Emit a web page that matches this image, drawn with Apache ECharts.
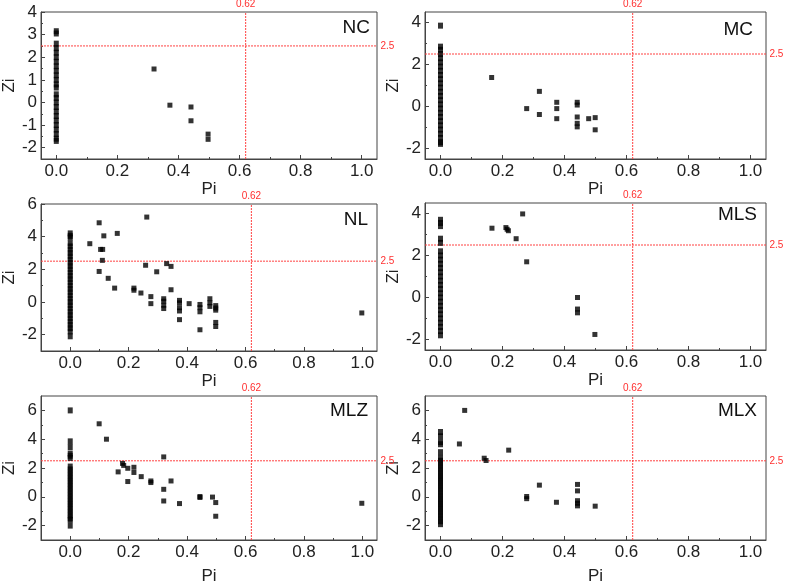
<!DOCTYPE html>
<html>
<head>
<meta charset="utf-8">
<script src="https://cdn.jsdelivr.net/npm/echarts@6/dist/echarts.min.js"></script>
<style>
  html, body { margin: 0; padding: 0; background: #fff; }
  #chart { width: 788px; height: 586px; }
</style>
</head>
<body>
<div id="chart"></div>
<script>
// panel names
var panelNames = ['NC', 'MC', 'NL', 'MLS', 'MLZ', 'MLX'];

// Zi values of the points stacked at Pi = 0
var ncCol = [3.15, 3.05, 2.6, 2.4, 2.2, 2.0, 1.8, 1.6, 1.4, 1.2, 1.0, 0.8, 0.66, 0.36, 0.2, 0, -0.2, -0.4, -0.6, -0.8, -1.0, -1.2, -1.4, -1.6, -1.7];
var mcCol = [3.85, 2.85, 2.7, 2.5, 2.3, 2.1, 1.9, 1.7, 1.5, 1.3, 1.1, 0.9, 0.7, 0.5, 0.3, 0.1, -0.1, -0.3, -0.5, -0.7, -0.9, -1.1, -1.3, -1.5, -1.7, -1.78];
var nlCol = [4.2, 4.05, 3.95, 3.6, 3.4, 3.2, 3.0, 2.8, 2.6, 2.4, 2.2, 2.0, 1.8, 1.6, 1.4, 1.2, 1.0, 0.8, 0.6, 0.4, 0.2, 0, -0.2, -0.4, -0.6, -0.8, -1.0, -1.2, -1.4, -1.6, -1.8, -2.1];
var mlsCol = [3.7, 3.55, 3.4, 2.8, 2.6, 2.2, 2.0, 1.8, 1.6, 1.4, 1.2, 1.0, 0.8, 0.6, 0.4, 0.2, 0, -0.2, -0.4, -0.6, -0.8, -1.0, -1.2, -1.4, -1.6, -1.8];
var mlzCol = [6.0, 3.85, 3.45, 3.0, 2.85, 2.7, 2.1, 1.9, 1.7, 1.5, 1.3, 1.1, 0.9, 0.7, 0.5, 0.3, 0.1, -0.1, -0.3, -0.5, -0.7, -0.9, -1.1, -1.3, -1.5, -1.6, -2.0];
var mlxCol = [4.5, 4.2, 3.8, 3.65, 3.1, 2.7, 2.5, 2.3, 2.1, 1.9, 1.7, 1.5, 1.3, 1.1, 0.9, 0.7, 0.5, 0.3, 0.1, -0.1, -0.3, -0.5, -0.7, -0.9, -1.1, -1.3, -1.5, -1.7, -1.9];

// other points [Pi, Zi]
var ncPts = [[0.32, 1.48], [0.372, -0.12], [0.441, -0.2], [0.441, -0.81], [0.497, -1.4], [0.497, -1.63]];
var mcPts = [[0.165, 1.38], [0.278, -0.1], [0.319, 0.72], [0.319, -0.38], [0.375, 0.2], [0.375, -0.1], [0.375, -0.58],
  [0.441, 0.2], [0.441, 0.07], [0.441, -0.5], [0.441, -0.8], [0.441, -0.97], [0.478, -0.58], [0.499, -0.53], [0.499, -1.11]];
var nlPts = [[0.067, 3.57], [0.099, 4.85], [0.099, 1.87], [0.104, 3.22], [0.111, 3.22], [0.11, 2.55], [0.115, 4.05],
  [0.13, 1.45], [0.152, 0.85], [0.161, 4.2], [0.218, 0.85], [0.218, 0.72], [0.242, 0.55], [0.262, 5.2], [0.258, 2.25],
  [0.276, 0.33], [0.276, -0.1], [0.296, 1.85], [0.32, 0.2], [0.32, 0.05], [0.32, -0.2], [0.32, -0.4], [0.33, 2.35],
  [0.345, 2.18], [0.345, 0.75], [0.374, 0.1], [0.374, -0.05], [0.374, -0.35], [0.374, -0.55], [0.374, -1.08],
  [0.407, -0.1], [0.444, -0.15], [0.444, -0.35], [0.444, -0.6], [0.444, -1.7], [0.478, 0.2], [0.478, -0.05],
  [0.478, -0.27], [0.498, -0.22], [0.498, -0.37], [0.498, -0.5], [0.498, -1.25], [0.498, -1.5], [0.998, -0.67]];
var mlsPts = [[0.166, 3.3], [0.211, 3.33], [0.215, 3.25], [0.219, 3.18], [0.244, 2.8], [0.265, 3.98], [0.278, 1.7],
  [0.442, 0.0], [0.442, -0.55], [0.442, -0.73], [0.498, -1.76]];
var mlzPts = [[0.099, 5.07], [0.124, 4.0], [0.164, 1.73], [0.179, 2.32], [0.183, 2.18], [0.197, 1.98], [0.197, 1.06],
  [0.218, 2.05], [0.218, 1.69], [0.243, 1.4], [0.276, 1.1], [0.276, 0.99], [0.32, 2.77], [0.32, 0.52], [0.32, -0.29],
  [0.345, 1.1], [0.374, -0.47], [0.444, 0.02], [0.444, -0.05], [0.487, -0.02], [0.498, -0.4], [0.498, -1.35], [0.998, -0.45]];
var mlxPts = [[0.061, 3.67], [0.078, 6.0], [0.141, 2.68], [0.147, 2.52], [0.22, 3.24], [0.278, 0.02], [0.278, -0.13],
  [0.319, 0.81], [0.374, -0.38], [0.442, 0.86], [0.442, 0.41], [0.442, -0.27], [0.442, -0.45], [0.442, -0.63], [0.499, -0.65]];

// threshold lines
var piLine = 0.62;
var ziLine = 2.5;

// tick labels
var xTicks = [0, 0.2, 0.4, 0.6, 0.8, 1.0];
var xMinor = [0.1, 0.3, 0.5, 0.7, 0.9];
var yTicks = [[-2, -1, 0, 1, 2, 3, 4], [-2, 0, 2, 4], [-2, 0, 2, 4, 6], [-2, 0, 2, 4], [-2, 0, 2, 4, 6], [-2, 0, 2, 4, 6]];
var yMinor = [[-1.5, -0.5, 0.5, 1.5, 2.5, 3.5], [-1, 1, 3], [-1, 1, 3, 5], [-1, 1, 3], [-1, 1, 3, 5], [-1, 1, 3, 5]];

var cols = [ncCol, mcCol, nlCol, mlsCol, mlzCol, mlxCol];
var pts = [ncPts, mcPts, nlPts, mlsPts, mlzPts, mlxPts];

// layout of each panel
var layout = [
  {left: 35, top: 12, width: 342, height: 147, xMin: -0.05, yMin: -2.5, yMax: 4, piGap: 19, ziGap: 13, lx: 418, ly: 18},
  {left: 425, top: 12, width: 341, height: 147, xMin: -0.05, yMin: -2.5, yMax: 4.5, piGap: 19, ziGap: 15, lx: 35, ly: 20},
  {left: 35, top: 204, width: 342, height: 147, xMin: -0.1, yMin: -3, yMax: 6, piGap: 20, ziGap: 13, lx: 420, ly: 210},
  {left: 425, top: 203, width: 341, height: 147, xMin: -0.05, yMin: -2.5, yMax: 4.5, piGap: 22, ziGap: 15, lx: 31, ly: 205},
  {left: 35, top: 396, width: 342, height: 148, xMin: -0.1, yMin: -3, yMax: 7, piGap: 28, ziGap: 13, lx: 420, ly: 401},
  {left: 425, top: 396, width: 341, height: 148, xMin: -0.05, yMin: -3, yMax: 7, piGap: 28, ziGap: 15, lx: 31, ly: 401}
];
var xMax = 1.05;

var font = 'Liberation Sans, Arial, sans-serif';
var axisColor = '#444';
var refColor = '#ff4040';

var grid = [], xAxis = [], yAxis = [], series = [], title = [];

// 参考线：用 line 系列画，端点取坐标轴范围
function refSeries(i, pData, label) {
  return {
    type: 'line', xAxisIndex: 2 * i, yAxisIndex: 2 * i,
    data: pData,
    symbol: 'circle', symbolSize: 1, showSymbol: true,
    itemStyle: {color: 'rgba(255,255,255,0)'},
    lineStyle: {color: refColor, width: 1, type: [2, 1]},
    label: {show: false},
    silent: true, z: 1
  };
}

for (var i = 0; i < 6; i++) {
  var p = layout[i];
  grid.push({left: p.left, top: p.top, width: p.width, height: p.height,
    show: true, borderColor: axisColor, borderWidth: 1, backgroundColor: 'transparent'});

  // main x axis
  xAxis.push({
    type: 'value', gridIndex: i, min: p.xMin, max: xMax,
    name: 'Pi', nameLocation: 'middle', nameGap: p.piGap,
    nameTextStyle: {fontSize: 17, color: '#222', fontFamily: font},
    axisLine: {show: true, onZero: false, lineStyle: {color: axisColor}},
    axisTick: {show: true, inside: true, length: 4, customValues: xTicks, lineStyle: {color: axisColor}},
    axisLabel: {customValues: xTicks, fontSize: 17, color: '#222', fontFamily: font, margin: 4,
      formatter: function (v) { return v.toFixed(1); }},
    splitLine: {show: false}
  });
  // minor ticks
  xAxis.push({
    type: 'value', gridIndex: i, min: p.xMin, max: xMax, position: 'bottom',
    axisLine: {show: false, onZero: false},
    axisTick: {show: true, inside: true, length: 2, customValues: xMinor, lineStyle: {color: axisColor}},
    axisLabel: {show: false},
    splitLine: {show: false}
  });

  yAxis.push({
    type: 'value', gridIndex: i, min: p.yMin, max: p.yMax,
    name: 'Zi', nameLocation: 'middle', nameGap: p.ziGap,
    nameTextStyle: {fontSize: 17, color: '#222', fontFamily: font},
    axisLine: {show: true, onZero: false, lineStyle: {color: axisColor}},
    axisTick: {show: true, inside: true, length: 4, customValues: yTicks[i], lineStyle: {color: axisColor}},
    axisLabel: {customValues: yTicks[i], fontSize: 17, color: '#222', fontFamily: font, margin: 4},
    splitLine: {show: false}
  });
  yAxis.push({
    type: 'value', gridIndex: i, min: p.yMin, max: p.yMax, position: 'left',
    axisLine: {show: false, onZero: false},
    axisTick: {show: true, inside: true, length: 2, customValues: yMinor[i], lineStyle: {color: axisColor}},
    axisLabel: {show: false},
    splitLine: {show: false}
  });

  var data = [];
  for (var k = 0; k < cols[i].length; k++) {
    data.push([0, cols[i][k]]);
  }
  for (var m = 0; m < pts[i].length; m++) {
    data.push(pts[i][m]);
  }

  // vertical reference line Pi = 0.62
  series.push(refSeries(i, [
    {value: [piLine, p.yMin]},
    {value: [piLine, p.yMax], label: {show: true, position: 'top', distance: 2, color: '#ff3030',
      fontSize: 10, fontFamily: font, formatter: String(piLine)}}
  ]));
  // horizontal reference line Zi = 2.5
  series.push(refSeries(i, [
    {value: [p.xMin, ziLine]},
    {value: [xMax, ziLine], label: {show: true, position: 'right', distance: 3, color: '#ff3030',
      fontSize: 10, fontFamily: font, formatter: String(ziLine)}}
  ]));

  series.push({
    type: 'scatter', xAxisIndex: 2 * i, yAxisIndex: 2 * i,
    symbol: 'rect',
    // 竖列的方块稍高一点，连成一条
    symbolSize: function (v) { return v[0] === 0 ? [5, 6] : 5; },
    itemStyle: {color: '#000'},
    data: data,
    silent: true, z: 3
  });

  title.push({
    text: panelNames[i], right: p.lx, top: p.ly, padding: 0,
    textStyle: {fontSize: 19, fontWeight: 'normal', color: '#111', fontFamily: font}
  });
}

var myChart = echarts.init(document.getElementById('chart'));
myChart.setOption({
  animation: false,
  backgroundColor: '#fff',
  title: title,
  grid: grid,
  xAxis: xAxis,
  yAxis: yAxis,
  series: series
});
</script>
</body>
</html>
